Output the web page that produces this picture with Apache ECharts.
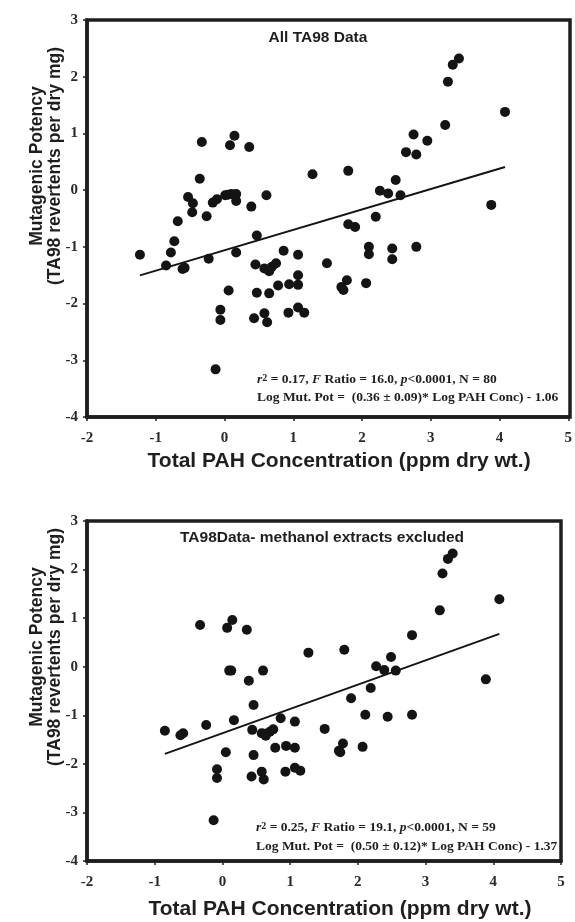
<!DOCTYPE html>
<html>
<head>
<meta charset="utf-8">
<script src="https://cdn.jsdelivr.net/npm/echarts@6/dist/echarts.min.js"></script>
<style>
  html, body { margin: 0; padding: 0; background: #fff; }
  #chart { width: 575px; height: 922px; }
</style>
</head>
<body>
<div id="chart"></div>
<script>
// Axis ranges (log units)
const xRange = [-2, 5];
const yRange = [-4, 3];

// All TA98 samples: log total PAH concentration vs log mutagenic potency
const allPAH = [
  -0.33, 0.145, 0.08, 0.36, -0.36, 1.28, -0.53, -0.46, -0.47, -0.68,
  -0.26, -0.17, -0.11, 0.01, 0.10, 0.17, 0.17, 0.39, 0.61, 3.41,
  3.32, 3.25, 4.08, 3.21, 2.75, 2.95, 2.64, 2.79, 1.80, 2.49,
  2.26, 2.38, 2.56, 3.88, 2.20, 1.80, 1.90, -0.73, -0.78, -1.23,
  -0.85, -0.61, -0.58, -0.23, 0.17, 0.47, 0.06, -0.06, -0.06, -0.13,
  0.45, 0.58, 0.65, 0.69, 0.75, 0.86, 1.07, 1.07, 1.07, 0.94,
  0.78, 0.47, 0.65, 0.58, 0.62, 0.43, 0.93, 1.07, 1.16, 1.49,
  2.10, 2.10, 2.44, 2.44, 2.79, 1.78, 1.70, 1.73, 2.06, 0.05
];
const allMut = [
  0.85, 0.96, 0.79, 0.76, 0.20, 0.28, -0.12, -0.23, -0.39, -0.55,
  -0.46, -0.22, -0.16, -0.09, -0.07, -0.07, -0.19, -0.29, -0.09, 2.32,
  2.21, 1.91, 1.38, 1.15, 0.98, 0.87, 0.67, 0.63, 0.34, 0.18,
  -0.01, -0.06, -0.09, -0.26, -0.47, -0.60, -0.65, -0.90, -1.10, -1.14,
  -1.33, -1.39, -1.37, -1.21, -1.10, -0.80, -1.77, -2.11, -2.29, -3.16,
  -1.31, -1.38, -1.43, -1.35, -1.29, -1.07, -1.14, -1.50, -1.67, -1.66,
  -1.68, -1.81, -1.82, -2.17, -2.33, -2.26, -2.16, -2.07, -2.16, -1.29,
  -1.00, -1.13, -1.03, -1.22, -1.00, -1.59, -1.71, -1.76, -1.64, -0.08
];

// Subset with methanol extracts removed
const exclPAH = [
  -0.33, 0.146, 0.07, 0.36, 1.27, 0.10, 0.60, 0.39, 3.40, 3.33,
  3.25, 4.09, 3.21, 2.80, 1.80, 2.49, 2.27, 2.39, 2.56, 3.89,
  2.19, 0.46, -0.85, -0.62, -0.58, -0.24, 0.17, 0.44, 0.58, 0.64,
  0.70, 0.75, 0.86, 1.07, 1.51, 0.05, 0.46, 0.78, 0.94, 1.07,
  -0.08, -0.08, 0.43, 0.58, 0.61, 0.93, 1.07, 1.15, -0.13, 1.90,
  2.11, 2.44, 2.80, 1.78, 1.72, 2.07, 1.74, 0.62, 0.13
];
const exclMut = [
  0.86, 0.96, 0.80, 0.76, 0.29, -0.08, -0.08, -0.29, 2.33, 2.22,
  1.92, 1.39, 1.16, 0.65, 0.35, 0.20, 0.01, -0.07, -0.08, -0.26,
  -0.44, -0.79, -1.32, -1.41, -1.37, -1.20, -1.10, -1.30, -1.37, -1.42,
  -1.34, -1.29, -1.06, -1.13, -1.28, -1.76, -1.82, -1.67, -1.63, -1.67,
  -2.11, -2.29, -2.26, -2.16, -2.32, -2.16, -2.08, -2.14, -3.16, -0.65,
  -0.99, -1.03, -0.99, -1.58, -1.73, -1.65, -1.76, -1.38, -0.08
];

// Fitted regressions: slope, intercept
const allFit = { slope: 0.36, intercept: -1.06 };
const exclFit = { slope: 0.50, intercept: -1.37 };

// Panel headings and statistics text
const panelTitles = ['All TA98 Data', 'TA98Data- methanol extracts excluded'];
const statLines = [
  ['{i|r}{s|2} = 0.17, {i|F} Ratio = 16.0, {i|p}<0.0001, N = 80',
   'Log Mut. Pot =  (0.36 \u00b1 0.09)* Log PAH Conc) - 1.06'],
  ['{i|r}{s|2} = 0.25, {i|F} Ratio = 19.1, {i|p}<0.0001, N = 59',
   'Log Mut. Pot =  (0.50 \u00b1 0.12)* Log PAH Conc) - 1.37']
];
const xTitle = 'Total PAH Concentration (ppm dry wt.)';
const yTitle = 'Mutagenic Potency\n(TA98 revertents per dry mg)';

const zip = (xs, ys) => xs.map((x, i) => [x, ys[i]]);
const fitLine = (xs, f) => {
  const lo = Math.min(...xs), hi = Math.max(...xs);
  return [[lo, f.slope * lo + f.intercept], [hi, f.slope * hi + f.intercept]];
};

const INK = '#1e1e1e';
const serif = '"Liberation Serif", "Times New Roman", serif';
const sans = '"Liberation Sans", Arial, sans-serif';

const grids = [
  { left: 87, top: 20, width: 483, height: 397 },
  { left: 87, top: 521, width: 474, height: 340 }
];

function xAxisFor(i, gap, shift) {
  return {
    gridIndex: i, type: 'value', min: xRange[0], max: xRange[1], interval: 1,
    axisLine: { show: true, onZero: false, lineStyle: { color: INK, width: 3.5 } },
    axisTick: { show: true, inside: false, length: 4, lineStyle: { color: INK, width: 1.5 } },
    axisLabel: { fontFamily: serif, fontWeight: 'bold', fontSize: 15, color: '#2a2a2a', margin: 14 },
    splitLine: { show: false },
    name: xTitle, nameLocation: 'middle', nameGap: gap,
    nameTextStyle: { fontFamily: sans, fontWeight: 'bold', fontSize: 21, color: INK, padding: [0, 0, 0, shift] }
  };
}
function yAxisFor(i) {
  return {
    gridIndex: i, type: 'value', min: yRange[0], max: yRange[1], interval: 1,
    axisLine: { show: true, onZero: false, lineStyle: { color: INK, width: 3.5 } },
    axisTick: { show: true, inside: false, length: 4, lineStyle: { color: INK, width: 1.5 } },
    axisLabel: { fontFamily: serif, fontWeight: 'bold', fontSize: 15, color: '#2a2a2a', margin: 9 },
    splitLine: { show: false }
  };
}

function scatter(i, xs, ys) {
  return {
    type: 'scatter', xAxisIndex: i, yAxisIndex: i, data: zip(xs, ys),
    symbol: 'circle', symbolSize: 10, itemStyle: { color: '#141414', opacity: 1 },
    silent: true, z: 3
  };
}
function regression(i, xs, f) {
  return {
    type: 'line', xAxisIndex: i, yAxisIndex: i, data: fitLine(xs, f),
    showSymbol: false, symbol: 'none', silent: true,
    lineStyle: { color: '#141414', width: 2 }, z: 2
  };
}

const richStats = {
  i: { fontFamily: serif, fontWeight: 'bold', fontStyle: 'italic', fontSize: 13.5, fill: INK },
  s: { fontFamily: serif, fontWeight: 'bold', fontSize: 10, fill: INK, verticalAlign: 'top', lineHeight: 11 }
};
function statsText(x, y, gap, lines) {
  return [
    { type: 'text', x: x, y: y, silent: true,
      style: { text: lines[0], rich: richStats, font: 'bold 13.5px ' + serif, fill: INK, verticalAlign: 'middle' } },
    { type: 'text', x: x, y: y + gap, silent: true,
      style: { text: lines[1], font: 'bold 13.5px ' + serif, fill: INK, verticalAlign: 'middle' } }
  ];
}
function heading(x, y, text) {
  return { type: 'text', x: x, y: y, silent: true,
    style: { text: text, font: 'bold 15.5px ' + sans, fill: INK, align: 'center', verticalAlign: 'middle' } };
}
function yTitleText(x, y) {
  return { type: 'text', x: x, y: y, rotation: Math.PI / 2, silent: true,
    style: { text: yTitle, font: 'bold 17.5px ' + sans, fill: INK, align: 'center', verticalAlign: 'middle', lineHeight: 18 } };
}
// Frame edges on top and right of each panel
function frame(g) {
  return { type: 'rect', silent: true, z: 10,
    shape: { x: g.left, y: g.top, width: g.width, height: g.height },
    style: { fill: 'none', stroke: INK, lineWidth: 3.5 } };
}

const chart = echarts.init(document.getElementById('chart'), null, { renderer: 'canvas' });
chart.setOption({
  animation: false,
  backgroundColor: '#fff',
  grid: grids,
  xAxis: [xAxisFor(0, 34, 23), xAxisFor(1, 38, 32)],
  yAxis: [yAxisFor(0), yAxisFor(1)],
  series: [
    scatter(0, allPAH, allMut), regression(0, allPAH, allFit),
    scatter(1, exclPAH, exclMut), regression(1, exclPAH, exclFit)
  ],
  graphic: [
    frame(grids[0]), frame(grids[1]),
    heading(318, 38, panelTitles[0]),
    heading(322, 538, panelTitles[1]),
    ...statsText(257, 380, 17.5, statLines[0]),
    ...statsText(256, 828, 18.5, statLines[1]),
    yTitleText(46.5, 166),
    yTitleText(46.5, 647)
  ]
});
</script>
</body>
</html>
